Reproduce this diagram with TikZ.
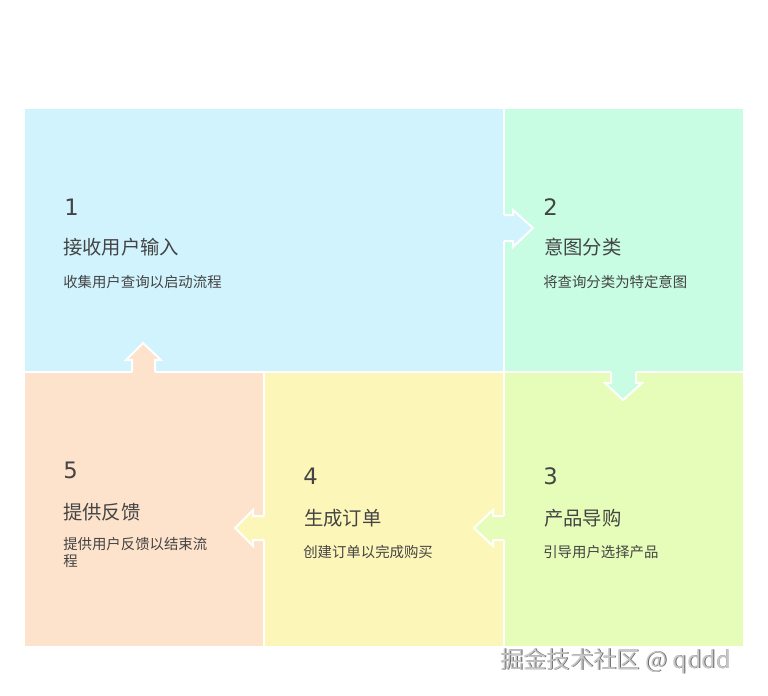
\documentclass[tikz,border=0pt]{standalone}
\usepackage{fontspec}
\setmainfont{Liberation Sans}
\newfontfamily\cjk{Noto Sans CJK SC}
\newfontfamily\numfont{DejaVu Sans}
\definecolor{cA}{HTML}{D1F3FD}
\definecolor{cB}{HTML}{C8FCE3}
\definecolor{cC}{HTML}{E6FDB9}
\definecolor{cD}{HTML}{FDF6B9}
\definecolor{cE}{HTML}{FDE3CB}
\definecolor{txt}{HTML}{444444}
\begin{document}
\begin{tikzpicture}[x=0.75pt,y=-0.75pt,
  panel/.style={rectangle,anchor=north west,inner sep=0pt,draw=none},
  numtxt/.style={anchor=base west,inner sep=0pt,text=txt,font=\numfont\fontsize{17}{20}\selectfont},
  ttltxt/.style={anchor=base west,inner sep=0pt,text=txt,font=\cjk\fontsize{14.5}{17}\selectfont},
  desctxt/.style={anchor=base west,inner sep=0pt,text=txt,align=left,font=\cjk\fontsize{10.8}{12.75}\selectfont},
  arrline/.style={draw=white,line width=1.5pt,line join=miter}]
\useasboundingbox (0,0) rectangle (768,696);
\fill[white] (0,0) rectangle (768,696);
% panels
\node[panel,fill=cA,minimum width=358.5pt,minimum height=196.5pt] (p1) at (25,109) {};
\node[panel,fill=cB,minimum width=178.5pt,minimum height=196.5pt] (p2) at (505,109) {};
\node[panel,fill=cC,minimum width=178.5pt,minimum height=204.75pt] (p3) at (505,373) {};
\node[panel,fill=cD,minimum width=178.5pt,minimum height=204.75pt] (p4) at (265,373) {};
\node[panel,fill=cE,minimum width=178.5pt,minimum height=204.75pt] (p5) at (25,373) {};
% arrows 1->2
\fill[cA] (502,215) -- (513,215) -- (513,210) -- (533,228) -- (513,247) -- (513,241) -- (502,241) -- cycle;
\draw[arrline] (504,215) -- (513,215) -- (513,210) -- (533,228) -- (513,247) -- (513,241) -- (504,241);
% 2->3
\fill[cB] (611,370) -- (611,383) -- (605,383) -- (623,400) -- (642,383) -- (636,383) -- (636,370) -- cycle;
\draw[arrline] (611,372) -- (611,383) -- (605,383) -- (623,400) -- (642,383) -- (636,383) -- (636,372);
% 3->4
\fill[cC] (506,516) -- (493,516) -- (493,510) -- (474,528) -- (493,546) -- (493,540) -- (506,540) -- cycle;
\draw[arrline] (504,516) -- (493,516) -- (493,510) -- (474,528) -- (493,546) -- (493,540) -- (504,540);
% 4->5
\fill[cD] (266,516) -- (253,516) -- (253,510) -- (235,528) -- (253,546) -- (253,540) -- (266,540) -- cycle;
\draw[arrline] (264,516) -- (253,516) -- (253,510) -- (235,528) -- (253,546) -- (253,540) -- (264,540);
% 5->1
\fill[cE] (132,374) -- (132,360) -- (126,360) -- (143,343) -- (161,360) -- (155,360) -- (155,374) -- cycle;
\draw[arrline] (132,372) -- (132,360) -- (126,360) -- (143,343) -- (161,360) -- (155,360) -- (155,372);
% texts
\node[numtxt] (n1) at (64,215) {1};
\node[ttltxt] (t1) at (63,254) {接收用户输入};
\node[desctxt] (d1) at (63,287) {收集用户查询以启动流程};
\node[numtxt] (n2) at (543,215) {2};
\node[ttltxt] (t2) at (544,254) {意图分类};
\node[desctxt] (d2) at (543,287) {将查询分类为特定意图};
\node[numtxt] (n3) at (543,484) {3};
\node[ttltxt] (t3) at (544,525) {产品导购};
\node[desctxt] (d3) at (543,557) {引导用户选择产品};
\node[numtxt] (n4) at (303,484) {4};
\node[ttltxt] (t4) at (304,525) {生成订单};
\node[desctxt] (d4) at (303,557) {创建订单以完成购买};
\node[numtxt] (n5) at (63,478) {5};
\node[ttltxt] (t5) at (63,519) {提供反馈};
\node[desctxt] (d5) at (63,566) {提供用户反馈以结束流\\程};
% watermark
\node[anchor=base west,inner sep=0pt,text=black!60,font=\cjk\fontsize{17.5}{20}\selectfont] (wms) at (500.8,668.8) {掘金技术社区 @ qddd};
\node[anchor=base west,inner sep=0pt,text=black!22,font=\cjk\fontsize{17.5}{20}\selectfont] (wm) at (500,668) {掘金技术社区 @ qddd};
\end{tikzpicture}
\end{document}
